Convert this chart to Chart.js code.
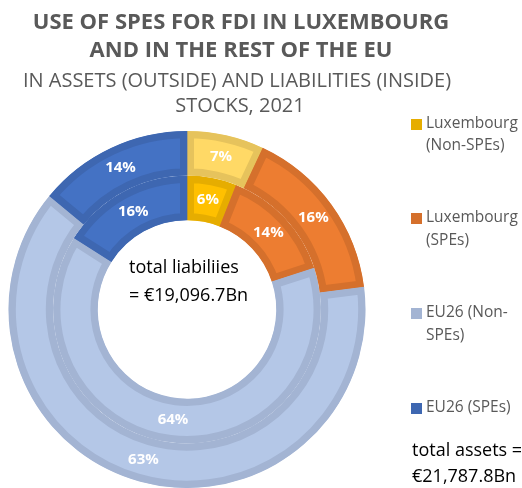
<!DOCTYPE html>
<html>
<head>
<meta charset="utf-8">
<script src="https://cdn.jsdelivr.net/npm/chart.js@4/dist/chart.umd.min.js"></script>
<style>
  body { margin: 0; background: #fff; }
  #wrap { position: relative; width: 522px; height: 488px; }
</style>
</head>
<body>
<div id="wrap"><canvas id="chart" width="522" height="488"></canvas></div>
<script>
// data
const categories = ['Luxembourg (Non-SPEs)', 'Luxembourg (SPEs)', 'EU26 (Non-SPEs)', 'EU26 (SPEs)'];
const legendLines = [['Luxembourg', '(Non-SPEs)'], ['Luxembourg', '(SPEs)'], ['EU26 (Non-', 'SPEs)'], ['EU26 (SPEs)']];
const assetShares = [7, 16, 63, 14];      // outer ring
const liabilityShares = [6, 14, 64, 16];  // inner ring
const titleLines = ['USE OF SPES FOR FDI IN LUXEMBOURG', 'AND IN THE REST OF THE EU'];
const subtitleLines = ['IN ASSETS (OUTSIDE) AND LIABILITIES (INSIDE)', 'STOCKS, 2021'];
const liabilitiesNote = ['total liabiliies', '= €19,096.7Bn'];
const assetsNote = ['total assets =', '€21,787.8Bn'];

const outerFill = ['#FFD966', '#ED7D31', '#B4C7E7', '#4472C4'];
const outerBorder = ['#E6C35C', '#D5702C', '#A3B4D3', '#3E67B1'];
const innerFill = ['#FFC000', '#ED7D31', '#B4C7E7', '#4472C4'];
const innerBorder = ['#E6AD00', '#D5702C', '#A3B4D3', '#3E67B1'];
const legendColors = ['#E6AD00', '#D5702C', '#A3B4D3', '#3E67B1'];

const FONT = '"Open Sans", sans-serif';

const textPlugin = {
    id: 'textPlugin',
    afterDatasetsDraw(chart) {
        const ctx = chart.ctx;
        ctx.save();
        // slice labels
        ctx.fillStyle = '#fff';
        ctx.font = 'bold 15px ' + FONT;
        ctx.textAlign = 'center';
        ctx.textBaseline = 'middle';
        chart.data.datasets.forEach((ds, di) => {
            chart.getDatasetMeta(di).data.forEach((arc, i) => {
                const p = arc.tooltipPosition();
                ctx.fillText(ds.data[i] + '%', p.x, p.y);
            });
        });

        // titles
        ctx.fillStyle = '#595959';
        ctx.font = 'bold 22px ' + FONT;
        ctx.fillText(titleLines[0], 241, 23);
        ctx.fillText(titleLines[1], 241, 51);
        ctx.font = '20px ' + FONT;
        ctx.fillText(subtitleLines[0], 237, 81);
        ctx.fillText(subtitleLines[1], 240, 106);

        // legend
        const legendY = [[124, 146], [218, 241], [313, 336], [408]];
        ctx.textAlign = 'left';
        ctx.font = '15.5px ' + FONT;
        legendLines.forEach((lines, i) => {
            ctx.fillStyle = legendColors[i];
            ctx.fillRect(411, legendY[i][0] - 5, 11, 11);
            ctx.fillStyle = '#595959';
            lines.forEach((t, j) => ctx.fillText(t, 426, legendY[i][j]));
        });

        // totals
        ctx.fillStyle = '#000';
        ctx.font = '18px ' + FONT;
        ctx.fillText(liabilitiesNote[0], 129, 268);
        ctx.fillText(liabilitiesNote[1], 129, 296);
        ctx.fillText(assetsNote[0], 412, 451);
        ctx.fillText(assetsNote[1], 412, 477);
        ctx.restore();
    }
};

new Chart(document.getElementById('chart'), {
    type: 'doughnut',
    data: {
        labels: categories,
        datasets: [
            {
                label: 'Assets',
                data: assetShares,
                backgroundColor: outerFill,
                borderColor: outerBorder,
                borderWidth: 7,
                borderAlign: 'inner'
            },
            {
                label: 'Liabilities',
                data: liabilityShares,
                backgroundColor: innerFill,
                borderColor: innerBorder,
                borderWidth: 7,
                borderAlign: 'inner'
            }
        ]
    },
    options: {
        responsive: false,
        animation: false,
        events: [],
        cutout: '50%',
        layout: { padding: { left: 7, right: 155, top: 131, bottom: 0 } },
        plugins: {
            legend: { display: false },
            title: { display: false },
            tooltip: { enabled: false }
        }
    },
    plugins: [textPlugin]
});
</script>
</body>
</html>
